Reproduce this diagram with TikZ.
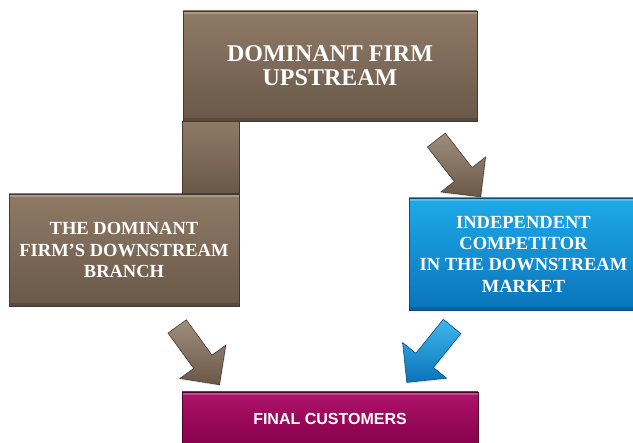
\documentclass[tikz,border=0pt]{standalone}
\usepackage{fontspec}
\setmainfont{Liberation Serif}
\setsansfont{Liberation Sans}
\usetikzlibrary{shapes.arrows,shadows}

\definecolor{brownTop}{HTML}{8F7A66}
\definecolor{brownBot}{HTML}{695848}
\definecolor{brownEdge}{HTML}{463A30}
\definecolor{blueTop}{HTML}{1EAAE8}
\definecolor{blueBot}{HTML}{0A74BA}
\definecolor{blueEdge}{HTML}{084C7C}
\definecolor{plumTop}{HTML}{AE126B}
\definecolor{plumBot}{HTML}{860049}
\definecolor{plumEdge}{HTML}{4E002C}

\begin{document}
\begin{tikzpicture}[x=1pt,y=-1pt,
 box/.style={rectangle,draw,line width=0.8pt,text=white,align=center,inner sep=0pt,
   drop shadow={opacity=0.2,shadow xshift=1pt,shadow yshift=-1.5pt},
   path picture={
     \fill[white,opacity=0.25] (path picture bounding box.north west)
       rectangle ([yshift=-3pt]path picture bounding box.north east);
     \fill[black,opacity=0.15] (path picture bounding box.south west)
       rectangle ([yshift=3pt]path picture bounding box.south east);}},
 brown box/.style={box,draw=brownEdge,top color=brownTop,bottom color=brownBot},
 blue box/.style={box,draw=blueEdge,top color=blueTop,bottom color=blueBot},
 plum box/.style={box,draw=plumEdge,top color=plumTop,bottom color=plumBot},
 fat arrow/.style={single arrow,line width=0.6pt,inner sep=11pt,minimum height=72pt,
   single arrow head extend=17pt,single arrow tip angle=90,
   drop shadow={opacity=0.2,shadow xshift=1pt,shadow yshift=-1.5pt}},
 brown arrow/.style={fat arrow,draw=brownEdge,top color=brownTop!85!white,bottom color=brownBot},
 blue arrow/.style={fat arrow,draw=blueEdge,top color=blueTop!85!white,bottom color=blueBot}]

  \useasboundingbox (0,0) rectangle (633,443);

  \node[brown box,minimum width=294pt,minimum height=110pt,
        font=\fontsize{24}{24}\selectfont\bfseries] (up) at (330,66)
        {DOMINANT FIRM\\UPSTREAM};
  \node[brown box,minimum width=230pt,minimum height=112pt,
        font=\fontsize{18.5}{21.5}\selectfont\bfseries] (branch) at (124,250)
        {THE DOMINANT\\FIRM’S DOWNSTREAM\\BRANCH};
  \node[blue box,minimum width=229pt,minimum height=112pt,
        font=\fontsize{18.5}{21.3}\selectfont\bfseries] (rival) at (523.5,254)
        {INDEPENDENT\\COMPETITOR\\IN THE DOWNSTREAM\\MARKET};
  \node[plum box,minimum width=296pt,minimum height=54pt,
        font=\fontsize{16}{18}\selectfont\sffamily\bfseries] (cust) at (330,419)
        {FINAL CUSTOMERS};

  \draw[line width=0.8pt,draw=brownEdge,top color=brownTop,bottom color=brownBot]
     (up.south west) rectangle (branch.north east);

  \node[brown arrow,rotate=-52] (a1) at (455,164) {};
  \node[brown arrow,rotate=-54] (a2) at (195,351) {};
  \node[blue arrow,rotate=-129] (a3) at (433,350) {};
\end{tikzpicture}
\end{document}
